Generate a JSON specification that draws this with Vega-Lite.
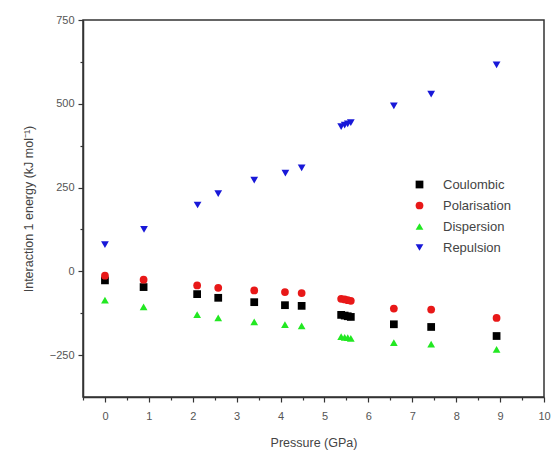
{
  "$schema": "https://vega.github.io/schema/vega-lite/v6.json",
  "autosize": "none",
  "padding": {"left": 83, "top": 20, "right": 8, "bottom": 53},
  "width": 461,
  "height": 377,
  "config": {
    "font": "Liberation Sans",
    "view": {"stroke": "#333333", "strokeWidth": 1.5},
    "axis": {"labelColor": "#555555", "titleColor": "#444444", "labelFontSize": 11, "titleFontSize": 12.5, "titleFontWeight": "normal", "domainColor": "#333333", "domainWidth": 1.5, "tickColor": "#333333", "tickWidth": 1.2, "grid": false}
  },
  "data": {"values": [
    {"p": 0.0, "e": -27, "s": "Coulombic"},
    {"p": 0.88, "e": -47, "s": "Coulombic"},
    {"p": 2.1, "e": -68, "s": "Coulombic"},
    {"p": 2.58, "e": -79, "s": "Coulombic"},
    {"p": 3.4, "e": -92, "s": "Coulombic"},
    {"p": 4.1, "e": -101, "s": "Coulombic"},
    {"p": 4.48, "e": -103, "s": "Coulombic"},
    {"p": 5.38, "e": -130, "s": "Coulombic"},
    {"p": 5.46, "e": -132, "s": "Coulombic"},
    {"p": 5.53, "e": -134, "s": "Coulombic"},
    {"p": 5.6, "e": -136, "s": "Coulombic"},
    {"p": 6.58, "e": -158, "s": "Coulombic"},
    {"p": 7.43, "e": -166, "s": "Coulombic"},
    {"p": 8.92, "e": -193, "s": "Coulombic"},
    {"p": 0.0, "e": -13, "s": "Polarisation"},
    {"p": 0.88, "e": -25, "s": "Polarisation"},
    {"p": 2.1, "e": -42, "s": "Polarisation"},
    {"p": 2.58, "e": -49, "s": "Polarisation"},
    {"p": 3.4, "e": -57, "s": "Polarisation"},
    {"p": 4.1, "e": -62, "s": "Polarisation"},
    {"p": 4.48, "e": -65, "s": "Polarisation"},
    {"p": 5.38, "e": -82, "s": "Polarisation"},
    {"p": 5.46, "e": -84, "s": "Polarisation"},
    {"p": 5.53, "e": -86, "s": "Polarisation"},
    {"p": 5.6, "e": -88, "s": "Polarisation"},
    {"p": 6.58, "e": -111, "s": "Polarisation"},
    {"p": 7.43, "e": -114, "s": "Polarisation"},
    {"p": 8.92, "e": -139, "s": "Polarisation"},
    {"p": 0.0, "e": -86, "s": "Dispersion"},
    {"p": 0.88, "e": -106, "s": "Dispersion"},
    {"p": 2.1, "e": -129, "s": "Dispersion"},
    {"p": 2.58, "e": -139, "s": "Dispersion"},
    {"p": 3.4, "e": -151, "s": "Dispersion"},
    {"p": 4.1, "e": -159, "s": "Dispersion"},
    {"p": 4.48, "e": -163, "s": "Dispersion"},
    {"p": 5.38, "e": -195, "s": "Dispersion"},
    {"p": 5.46, "e": -197, "s": "Dispersion"},
    {"p": 5.53, "e": -198, "s": "Dispersion"},
    {"p": 5.6, "e": -200, "s": "Dispersion"},
    {"p": 6.58, "e": -213, "s": "Dispersion"},
    {"p": 7.43, "e": -217, "s": "Dispersion"},
    {"p": 8.92, "e": -233, "s": "Dispersion"},
    {"p": 0.0, "e": 80, "s": "Repulsion"},
    {"p": 0.89, "e": 125, "s": "Repulsion"},
    {"p": 2.11, "e": 198, "s": "Repulsion"},
    {"p": 2.58, "e": 232, "s": "Repulsion"},
    {"p": 3.4, "e": 272, "s": "Repulsion"},
    {"p": 4.11, "e": 293, "s": "Repulsion"},
    {"p": 4.48, "e": 309, "s": "Repulsion"},
    {"p": 5.38, "e": 432, "s": "Repulsion"},
    {"p": 5.46, "e": 436, "s": "Repulsion"},
    {"p": 5.53, "e": 440, "s": "Repulsion"},
    {"p": 5.6, "e": 444, "s": "Repulsion"},
    {"p": 6.58, "e": 494, "s": "Repulsion"},
    {"p": 7.43, "e": 529, "s": "Repulsion"},
    {"p": 8.92, "e": 616, "s": "Repulsion"}
  ]},
  "mark": {"type": "point", "filled": true, "size": 60, "opacity": 1},
  "encoding": {
    "x": {"field": "p", "type": "quantitative", "scale": {"domain": [-0.5, 10], "nice": false, "zero": false},
      "axis": {"title": "Pressure (GPa)", "values": [-0.5, 0, 0.5, 1, 1.5, 2, 2.5, 3, 3.5, 4, 4.5, 5, 5.5, 6, 6.5, 7, 7.5, 8, 8.5, 9, 9.5, 10],
        "labelExpr": "datum.value % 1 == 0 ? format(datum.value, 'd') : ''", "tickSize": {"condition": {"test": "datum.value % 1 == 0", "value": 5}, "value": 3},
        "labelPadding": 8, "titlePadding": 15, "labelFlush": false, "labelOverlap": false}},
    "y": {"field": "e", "type": "quantitative", "scale": {"domain": [-375, 750], "nice": false, "zero": false},
      "axis": {"title": "Interaction 1 energy (kJ mol⁻¹)", "values": [-250, -125, 0, 125, 250, 375, 500, 625, 750],
        "labelExpr": "datum.value % 250 == 0 ? format(datum.value, 'd') : ''", "tickSize": {"condition": {"test": "datum.value % 250 == 0", "value": 5}, "value": 3},
        "labelPadding": 4, "titlePadding": 14, "labelFlush": false, "labelOverlap": false}},
    "shape": {"field": "s", "type": "nominal", "scale": {"domain": ["Coulombic", "Polarisation", "Dispersion", "Repulsion"], "range": ["square", "circle", "triangle-up", "triangle-down"]},
      "legend": {"title": null, "orient": "none", "legendX": 330, "legendY": 158, "labelFontSize": 13, "labelColor": "#444444", "symbolSize": 60, "rowPadding": 7, "labelOffset": 17}},
    "color": {"field": "s", "type": "nominal", "scale": {"domain": ["Coulombic", "Polarisation", "Dispersion", "Repulsion"], "range": ["#000000", "#e81818", "#22e822", "#1818d8"]},
      "legend": {"title": null, "orient": "none", "legendX": 330, "legendY": 158, "labelFontSize": 13, "labelColor": "#444444", "symbolSize": 60, "rowPadding": 7, "labelOffset": 17}}
  }
}
